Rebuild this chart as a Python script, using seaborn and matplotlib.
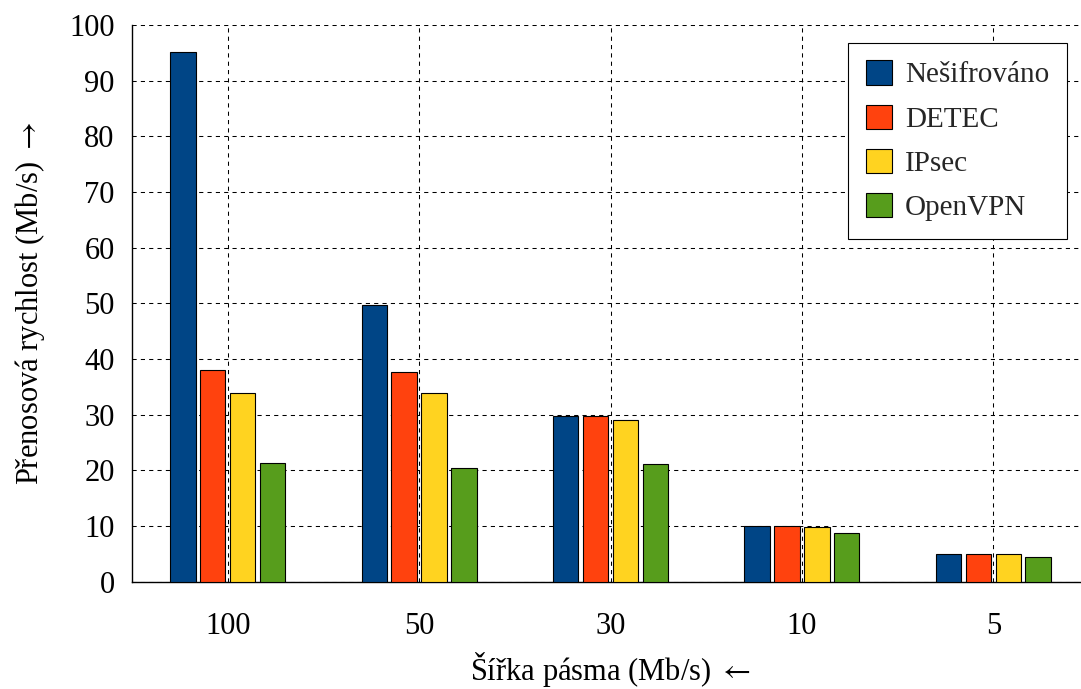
import pandas as pd
import matplotlib
matplotlib.use("Agg")
import matplotlib.pyplot as plt
import seaborn as sns

# ── Data ────────────────────────────────────────────────────────────────────
BANDWIDTH = ["100", "50", "30", "10", "5"]
SERIES    = ["Nešifrováno", "DETEC", "IPsec", "OpenVPN"]
UNENCRYPTED = [95.1, 49.7, 29.8, 9.95, 5.0]
DETEC       = [38.0, 37.6, 29.7, 9.95, 5.0]
IPSEC       = [33.9, 33.9, 29.1, 9.75, 4.9]
OPENVPN     = [21.3, 20.5, 21.1, 8.7, 4.4]
COLORS = ["#004586", "#ff420e", "#ffd320", "#579d1c"]

rows = []
for name, vals in zip(SERIES, [UNENCRYPTED, DETEC, IPSEC, OPENVPN]):
    for bw, v in zip(BANDWIDTH, vals):
        rows.append({"bw": bw, "series": name, "rate": v})
df = pd.DataFrame(rows)

sns.set_theme(style="white")
plt.rcParams["font.family"] = ["Liberation Serif", "DejaVu Serif"]
plt.rcParams["mathtext.fontset"] = "stix"

# ── Plot ────────────────────────────────────────────────────────────────────
fig = plt.figure(figsize=(10.81, 6.89), dpi=100)
ax = fig.add_axes([132 / 1081, 107.3 / 689, 957 / 1081, 556.7 / 689])

sns.barplot(data=df, x="bw", y="rate", hue="series", order=BANDWIDTH,
            hue_order=SERIES, palette=COLORS, width=0.625, gap=0.15,
            edgecolor="black", linewidth=0.8, saturation=1, ax=ax, zorder=3)

ax.set_xlim(-0.5, 4.5)
ax.set_ylim(0, 100)
ax.set_yticks(range(0, 101, 10))
ax.grid(True, color="black", linestyle=(0, (4, 4)), linewidth=0.75, zorder=0)
ax.set_axisbelow(True)

for s in ["top", "right"]:
    ax.spines[s].set_visible(False)
for s in ["left", "bottom"]:
    ax.spines[s].set_color("black")
    ax.spines[s].set_linewidth(1.0)

ax.tick_params(axis="both", direction="out", length=8.5, width=0.8,
               color="black", labelsize=22, labelcolor="black")
ax.tick_params(axis="x", pad=13)
ax.tick_params(axis="y", pad=4)

ax.set_xlabel(r"Šířka pásma (Mb/s) $\leftarrow$", fontsize=22, labelpad=7,
              color="black")
ax.set_ylabel(r"Přenosová rychlost (Mb/s) $\rightarrow$", fontsize=22,
              labelpad=16, color="black")

leg = ax.legend(loc="upper right", bbox_to_anchor=(0.9767, 0.968),
                borderaxespad=0, fontsize=21, frameon=True, fancybox=False,
                edgecolor="black", handlelength=0.9, handleheight=0.9,
                labelspacing=0.55, handletextpad=0.45, borderpad=0.6)
leg.get_frame().set_linewidth(0.8)
leg.get_frame().set_alpha(1)

fig.savefig("out.png", dpi=100)
plt.close(fig)
